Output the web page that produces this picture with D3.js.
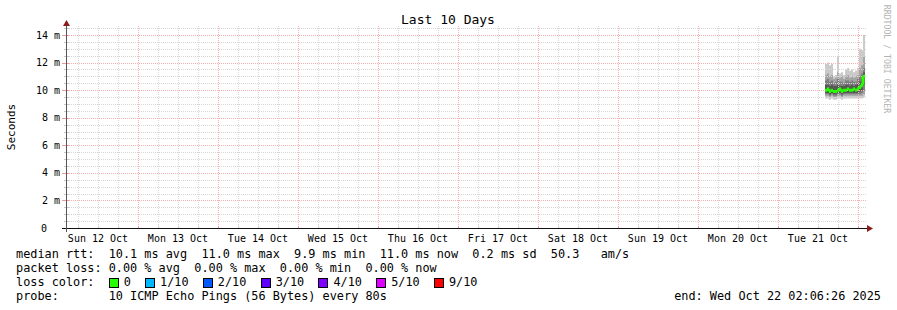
<!DOCTYPE html>
<html><head><meta charset="utf-8">
<script src="https://cdn.jsdelivr.net/npm/d3@7"></script>
<style>
html,body{margin:0;padding:0;background:#fff;}
svg{display:block;}
text{font-family:"DejaVu Sans Mono",monospace;fill:#000;}
</style>
</head><body>
<svg id="c" width="897" height="310"></svg>
<script>
// ---- data ----
const title = "Last 10 Days";
const rangeStart = "2025-10-12T02:06:26";
const rangeEnd = "2025-10-22T02:06:26";
const times = ["2025-10-21T14:06:26","2025-10-21T14:42:26","2025-10-21T15:18:26","2025-10-21T15:54:26",
  "2025-10-21T16:30:26","2025-10-21T17:06:26","2025-10-21T17:42:26","2025-10-21T18:18:26",
  "2025-10-21T18:54:26","2025-10-21T19:30:26","2025-10-21T20:06:26","2025-10-21T20:42:26",
  "2025-10-21T21:18:26","2025-10-21T21:54:26","2025-10-21T22:30:26","2025-10-21T23:06:26",
  "2025-10-21T23:42:26","2025-10-22T00:18:26","2025-10-22T00:54:26","2025-10-22T01:30:26"];
// sorted pings (ms), rank 1..10
const ping1  = [9.4,9.4,9.3,9.4,9.3,9.3,9.4,9.4,9.3,9.4,9.4,9.4,9.4,9.4,9.4,9.4,9.4,9.4,9.4,9.5];
const ping2  = [9.6,9.6,9.5,9.6,9.5,9.5,9.6,9.6,9.5,9.6,9.6,9.6,9.6,9.6,9.6,9.6,9.6,9.6,9.6,9.7];
const ping3  = [9.7,9.7,9.6,9.7,9.6,9.6,9.7,9.7,9.6,9.7,9.7,9.7,9.7,9.7,9.7,9.7,9.7,9.7,9.8,10.0];
const ping4  = [9.8,9.8,9.7,9.8,9.7,9.7,9.8,9.8,9.7,9.8,9.8,9.8,9.8,9.8,9.8,9.8,9.8,9.9,10.0,10.4];
const ping5  = [9.9,10.0,9.8,9.9,9.8,9.8,9.9,10.0,9.8,9.9,9.9,10.0,9.9,9.9,10.0,9.9,10.0,10.1,10.3,10.9];
const ping6  = [10.1,10.2,10.0,10.1,10.0,10.0,10.1,10.2,10.0,10.1,10.1,10.2,10.1,10.1,10.2,10.1,10.2,10.3,10.5,11.1];
const ping7  = [10.4,10.4,10.3,10.4,10.3,10.3,10.4,10.3,10.3,10.3,10.4,10.4,10.3,10.4,10.3,10.4,10.5,10.6,10.8,11.3];
const ping8  = [10.7,10.8,10.6,10.7,10.5,10.6,10.8,10.6,10.6,10.5,10.7,10.7,10.6,10.7,10.6,10.6,10.8,11.0,11.2,11.6];
const ping9  = [11.1,11.2,11.0,11.1,10.8,10.9,11.3,10.9,11.0,10.8,11.0,11.1,10.9,11.0,10.9,11.0,11.1,11.6,11.8,12.4];
const ping10 = [11.9,12.0,11.8,11.9,11.0,11.1,12.5,11.2,11.3,11.1,11.5,11.6,11.4,11.5,11.3,11.4,11.6,13.0,12.9,14.0];
const median = [10.0,10.1,9.9,10.0,9.9,9.9,10.0,10.1,9.9,10.0,10.0,10.1,10.0,10.0,10.1,10.0,10.1,10.2,10.4,11.0];
const loss   = [0,0,0,0,0,0,0,0,0,0,0,0,0,0,0,0,0,0,0,0];
const yTicks = [0,2,4,6,8,10,12,14];
const yTickLabels = ["0","2 m","4 m","6 m","8 m","10 m","12 m","14 m"];
const yLabel = "Seconds";
const lossLabels = ["0","1/10","2/10","3/10","4/10","5/10","9/10"];
const lossLevels = [0,1,2,3,4,5,9];
const lossColors = ["#26ff00","#00b8ff","#0059ff","#5e00ff","#7e00ff","#dd00ff","#ff0000"];
const legendLines = [
  "median rtt:  10.1 ms avg  11.0 ms max  9.9 ms min  11.0 ms now  0.2 ms sd  50.3   am/s",
  "packet loss: 0.00 % avg  0.00 % max  0.00 % min  0.00 % now"
];
const lossColorTitle = "loss color:";
const probeLine = "probe:       10 ICMP Echo Pings (56 Bytes) every 80s";
const endLine = "end: Wed Oct 22 02:06:26 2025";
const watermark = "RRDTOOL / TOBI OETIKER";

// ---- drawing ----
const svg = d3.select("#c");
const parse = s => new Date(s);
const x = d3.scaleTime().domain([parse(rangeStart), parse(rangeEnd)]).range([65, 865]);
const y = d3.scaleLinear().domain([0, 14]).range([228, 35]);
const plotTop = 26, plotBottom = 228, plotLeft = 66, plotRight = 866;
const px = v => Math.round(v) + 0.5;
const minorCol = "#d6d6d6", majorCol = "#f7b0b0";

svg.append("rect").attr("width",897).attr("height",310).attr("fill","#fff");

// smoke bands
const ranks = [ping1,ping2,ping3,ping4,ping5,ping6,ping7,ping8,ping9,ping10];
const smokeColors = ["#cacaca","#a4a4a4","#7e7e7e","#585858","#323232"];
const tDates = times.map(parse).concat([parse(rangeEnd)]);
const ext = arr => arr.concat([arr[arr.length-1]]);
for (let i = 0; i < 5; i++) {
  const lo = ext(ranks[i]), hi = ext(ranks[9-i]);
  const area = d3.area().curve(d3.curveStepAfter)
    .x((d,j) => x(tDates[j])).y0((d,j) => y(lo[j])).y1((d,j) => y(hi[j]));
  svg.append("path").datum(tDates).attr("d", area).attr("fill", smokeColors[i]);
}

// grid
const g = svg.append("g");
const minorY = d3.range(0, 14.51, 0.5);
minorY.forEach(v => {
  const major = Math.abs(v % 2) < 1e-9;
  if (v === 0) return;
  g.append("line").attr("x1",plotLeft+1).attr("x2",plotRight).attr("y1",px(y(v))).attr("y2",px(y(v)))
    .attr("stroke", major ? majorCol : minorCol).attr("stroke-dasharray","1,1");
});
const hours6 = d3.timeHour.every(6).range(parse(rangeStart), parse(rangeEnd));
hours6.forEach(t => {
  const major = t.getHours() === 0;
  const xv = px(x(t));
  if (xv <= plotLeft + 0.5) return;
  g.append("line").attr("x1",xv).attr("x2",xv).attr("y1",plotTop).attr("y2",plotBottom)
    .attr("stroke", major ? majorCol : minorCol).attr("stroke-dasharray","1,1");
  g.append("line").attr("x1",xv).attr("x2",xv).attr("y1",plotBottom-2).attr("y2",plotBottom+1)
    .attr("stroke", major ? "#ee9a9a" : "#c8c8c8");
});
minorY.forEach(v => {
  const major = Math.abs(v % 2) < 1e-9;
  g.append("line").attr("x1", major ? 62 : 64).attr("x2", 69)
    .attr("y1",px(y(v))).attr("y2",px(y(v))).attr("stroke", major ? "#ee9a9a" : "#c8c8c8");
});

// median line coloured by loss
const medExt = ext(median);
const lossExt = ext(loss);
const colorOf = l => lossColors[Math.max(0, lossLevels.findIndex(v => v >= l))];
for (let j = 0; j < times.length; j++) {
  const seg = [{t:tDates[j], v:medExt[j]}, {t:tDates[j+1], v:medExt[j]}];
  const ln = d3.line().x(d => x(d.t)).y(d => y(d.v));
  svg.append("path").attr("d", ln(seg)).attr("stroke", colorOf(lossExt[j]))
    .attr("stroke-width", 3).attr("fill","none");
  if (j < times.length - 1 && medExt[j+1] !== medExt[j]) {
    svg.append("line").attr("x1", x(tDates[j+1])).attr("x2", x(tDates[j+1]))
      .attr("y1", y(medExt[j])).attr("y2", y(medExt[j+1]))
      .attr("stroke", colorOf(lossExt[j+1])).attr("stroke-width", 3);
  }
}

// axes
svg.append("line").attr("x1",62).attr("x2",868).attr("y1",228.5).attr("y2",228.5).attr("stroke","#111");
svg.append("path").attr("d","M867,225 L873,228.5 L867,232 Z").attr("fill","#8b1a1a");
svg.append("line").attr("x1",66.5).attr("x2",66.5).attr("y1",232).attr("y2",24).attr("stroke","#555");
svg.append("path").attr("d","M63,26 L66.5,20 L70,26 Z").attr("fill","#8b1a1a");

// y tick labels
yTicks.forEach((v,i) => {
  const t = svg.append("text").attr("y", y(v) + 3.5).attr("font-size","10px").attr("text-anchor","end")
    .text(yTickLabels[i]);
  t.attr("x", v === 0 ? 47 : 60);
});
// x tick labels at noon (only days whose noon lies inside the range)
const days = d3.timeDay.range(d3.timeDay.floor(parse(rangeStart)), parse(rangeEnd));
const fmt = d3.timeFormat("%a %d %b");
days.forEach(d => {
  const noon = d3.timeHour.offset(d, 12);
  if (noon < parse(rangeStart) || noon > parse(rangeEnd)) return;
  svg.append("text").attr("x", x(noon)).attr("y", 241.5).attr("font-size","10px")
    .attr("text-anchor","middle").text(fmt(d));
});

// title
svg.append("text").attr("x",448).attr("y",24).attr("font-size","13px").attr("text-anchor","middle").text(title);
// y label
svg.append("text").attr("transform","translate(14.5,127) rotate(-90)").attr("font-size","11px")
  .attr("text-anchor","middle").text(yLabel);
// watermark
svg.append("text").attr("transform","translate(884,59) rotate(90)").attr("font-size","8.2px")
  .attr("text-anchor","middle").style("fill","#b4b4b4").text(watermark);

// legend
const fs = "11.85px", cw = 7.13;
legendLines.forEach((s,i) => {
  svg.append("text").attr("x",16).attr("y",258 + i*14).attr("font-size",fs)
    .attr("xml:space","preserve").style("white-space","pre").text(s);
});
svg.append("text").attr("x",16).attr("y",286).attr("font-size",fs).text(lossColorTitle);
let bx = 16 + 13*cw;
lossLabels.forEach((lab,i) => {
  svg.append("rect").attr("x", Math.round(bx)+0.5).attr("y", 278.5).attr("width", 9).attr("height", 9)
    .attr("fill", lossColors[i]).attr("stroke","#000");
  const tx = bx + 15;
  svg.append("text").attr("x", tx).attr("y", 286).attr("font-size", fs).text(lab);
  bx = tx + (lab.length + 2) * cw;
});
svg.append("text").attr("x",16).attr("y",300).attr("font-size",fs)
  .attr("xml:space","preserve").style("white-space","pre").text(probeLine);
svg.append("text").attr("x",881).attr("y",300).attr("font-size",fs).attr("text-anchor","end").text(endLine);
</script>
</body></html>
